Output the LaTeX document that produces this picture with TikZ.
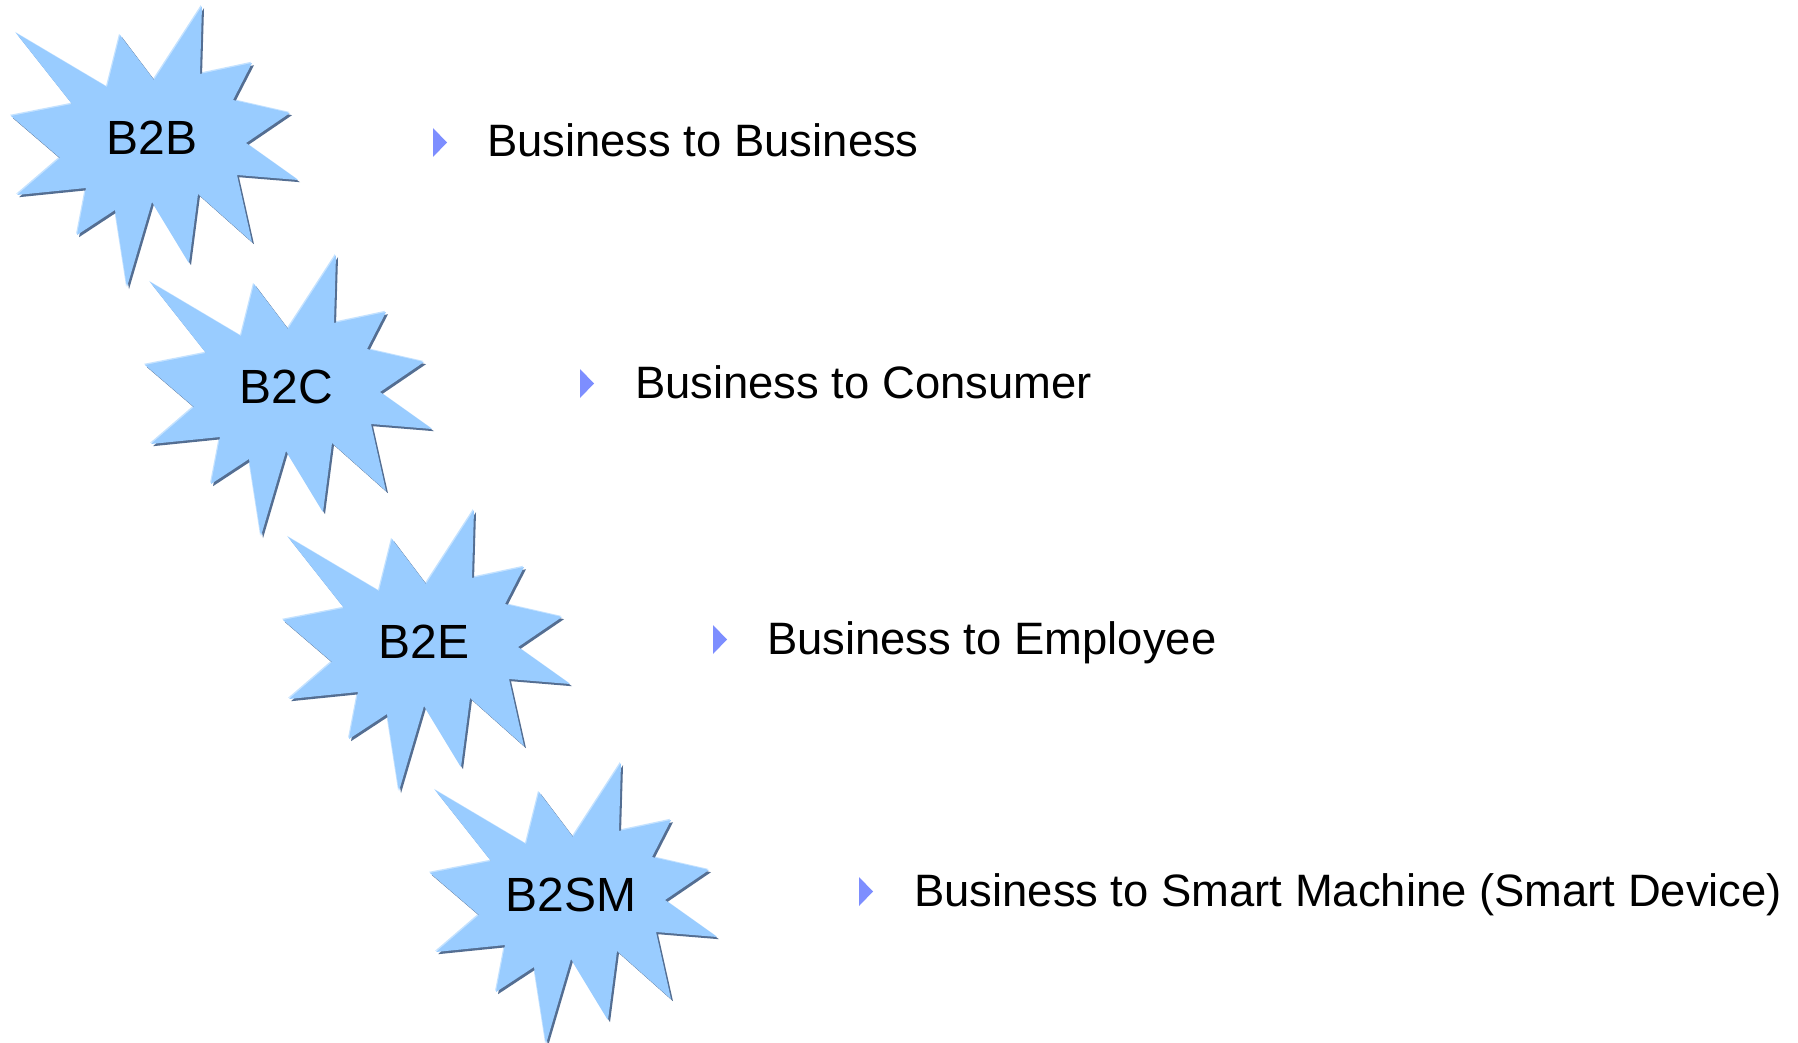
\documentclass[tikz,border=0pt]{standalone}
\usepackage{fontspec}
\setmainfont{Liberation Sans}
\usetikzlibrary{calc}
\definecolor{burstfill}{RGB}{153,204,255}
\definecolor{burstshade}{RGB}{84,110,146}
\definecolor{burstlight}{RGB}{196,226,255}
\definecolor{bulletblue}{RGB}{125,142,255}
\def\burstpath{(16,33) -- (107,87) -- (120,35) -- (154,80) -- (202,6) -- (200,74) -- (252,63) -- (233,100) -- (290,113) -- (246,143) -- (298,180) -- (237,175) -- (252,242) -- (198,194) -- (189,263) -- (152,202) -- (127,287) -- (115,210) -- (77,235) -- (86,188) -- (17,195) -- (60,158) -- (11,116) -- (72,104) -- cycle}
\def\burst(#1){%
  \begin{scope}[shift={(#1)}]
    \fill[burstlight, shift={(-1,-1.2)}] \burstpath;
    \fill[burstshade, shift={(2,2.2)}] \burstpath;
    \fill[burstfill] \burstpath;
  \end{scope}}
\tikzset{
  burstlabel/.style={inner sep=0pt, font=\fontsize{48}{56}\selectfont},
  itemlabel/.style={anchor=base west, inner sep=0pt, font=\fontsize{45.4}{54}\selectfont}
}

\begin{document}
\begin{tikzpicture}[x=1pt, y=-1pt]
  \useasboundingbox (0,0) rectangle (1798,1043);

  %%%%% BURSTS %%%%%
  \burst(0,0)
  \node[burstlabel] (b2b) at (152,138) {B2B};

  \burst(134,249)
  \node[burstlabel] (b2c) at (286,387) {B2C};

  \burst(272,504)
  \node[burstlabel] (b2e) at (424,642) {B2E};

  \burst(419,757)
  \node[burstlabel] (b2sm) at (571,895) {B2SM};

  %%%%% ITEMS %%%%%
  \node[itemlabel] (b2b-text) at (487,157) {Business to Business};
  \fill[bulletblue] ($(b2b-text.base west)+(-54,0)$) -- ++(0,-29) -- ++(14,14.5) -- cycle;

  \node[itemlabel] (b2c-text) at (635,398) {Business to Consumer};
  \fill[bulletblue] ($(b2c-text.base west)+(-55,0)$) -- ++(0,-29) -- ++(14,14.5) -- cycle;

  \node[itemlabel] (b2e-text) at (767,654) {Business to Employee};
  \fill[bulletblue] ($(b2e-text.base west)+(-54,0)$) -- ++(0,-29) -- ++(14,14.5) -- cycle;

  \node[itemlabel] (b2sm-text) at (914,906) {Business to Smart Machine (Smart Device)};
  \fill[bulletblue] ($(b2sm-text.base west)+(-55,0)$) -- ++(0,-29) -- ++(14,14.5) -- cycle;
\end{tikzpicture}
\end{document}
